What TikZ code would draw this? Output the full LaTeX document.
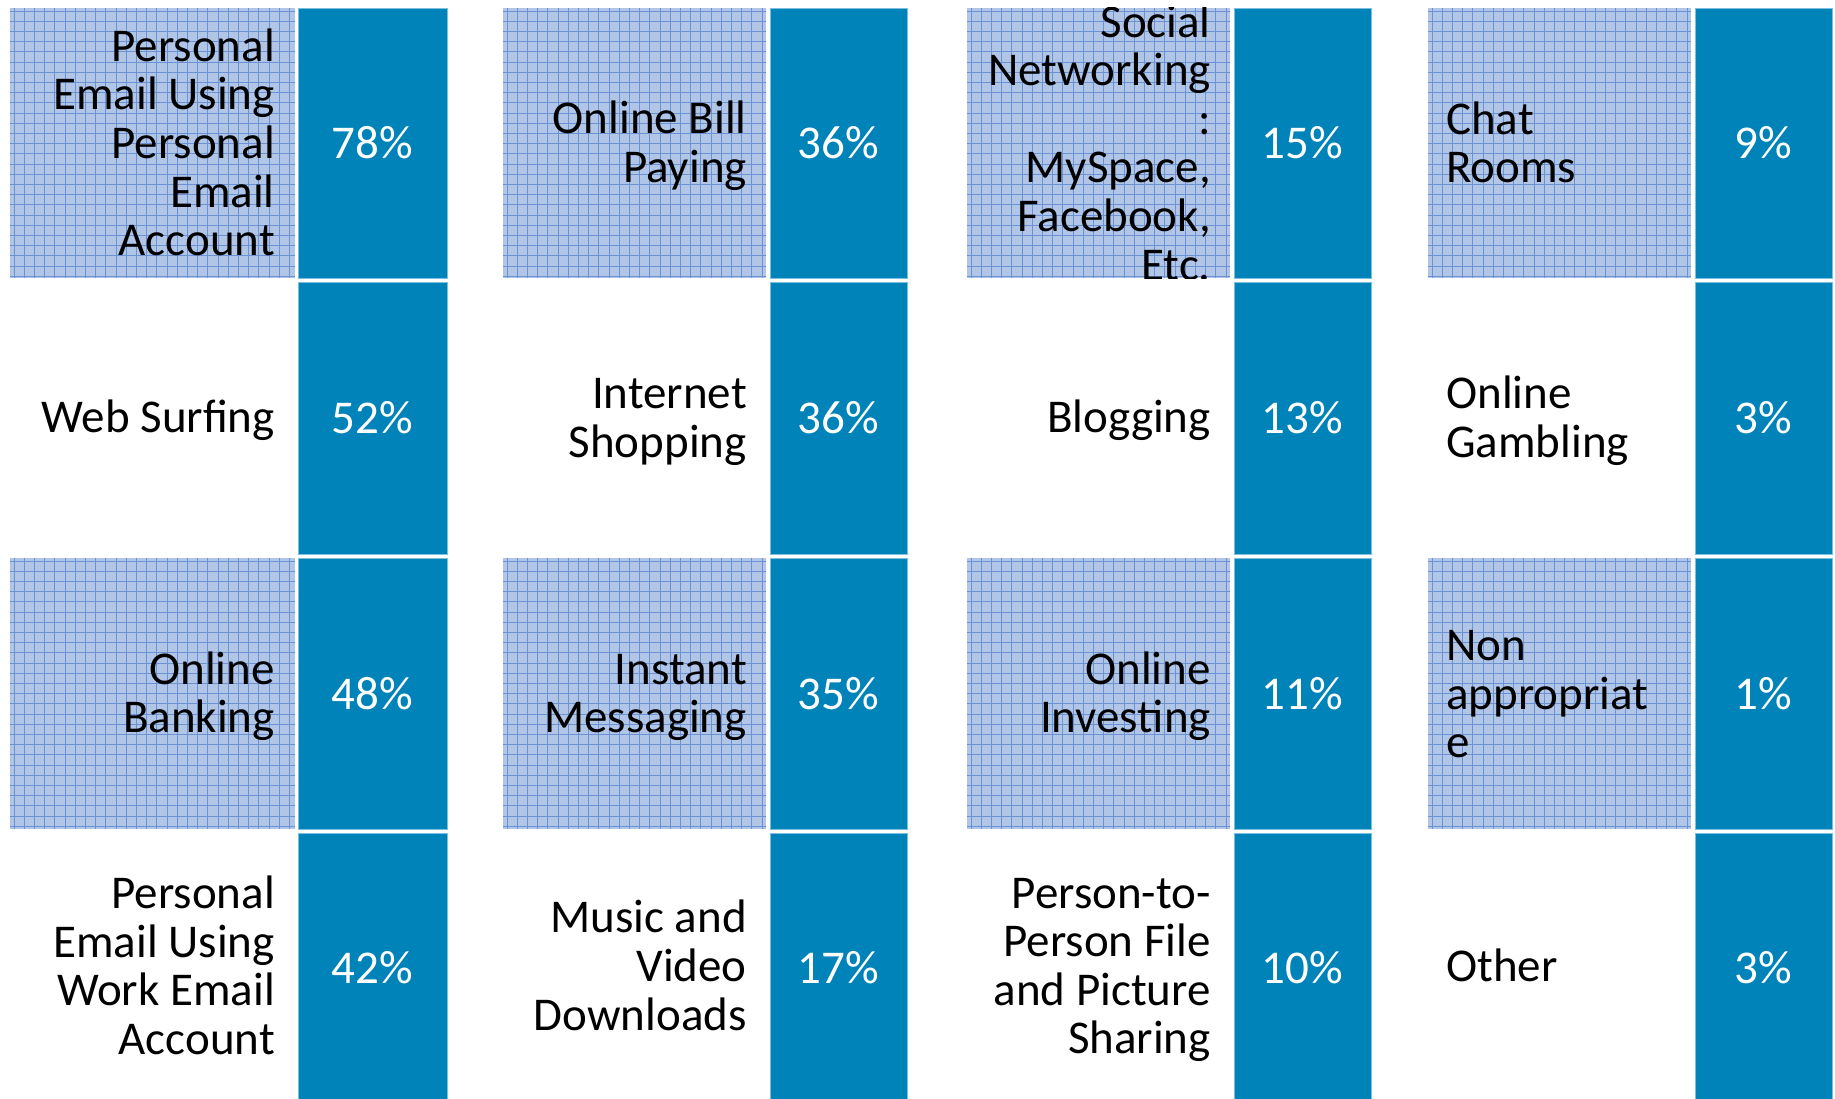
\documentclass[tikz,border=0pt]{standalone}
\usepackage{fontspec}
\setmainfont{Carlito}
\definecolor{pctblue}{HTML}{0083B9}
\definecolor{pctedge}{HTML}{7CC0E0}
\definecolor{patbg}{HTML}{B1C5E7}
\definecolor{patln}{HTML}{6B93D4}
\newcommand\ls{\rule[-7pt]{0pt}{45pt}}
\tikzset{
  pctfill/.style={fill=pctblue, draw=pctedge, line width=0.8pt},
  pcttext/.style={text=white, inner sep=0pt, font=\fontsize{47}{48.6}\selectfont},
  patfill/.style={fill=patbg},
  patline/.style={draw=patln, line width=0.9pt},
  lblr/.style={text=black, inner sep=0pt, anchor=east, align=right, font=\fontsize{47}{48.6}\selectfont},
  lbll/.style={text=black, inner sep=0pt, anchor=west, align=left, font=\fontsize{47}{48.6}\selectfont},
}
\newcommand\pctcell[6]{%
  \fill[pctfill] (#2,#4) rectangle (#3,#5);
  \node[pcttext] (#1) at ({(#2+#3)/2},{(#4+#5)/2}) {\ls #6};}
\newcommand\patcell[4]{%
  \fill[patfill] (#1,#3) rectangle (#2,#4);
  \begin{scope}
    \clip (#1,#3) rectangle (#2,#4);
    \foreach \gi in {0,...,28} {
      \draw[patline] ({#1+4+10.2*\gi},#3) -- ({#1+4+10.2*\gi},#4);
    }
    \foreach \gj in {0,...,27} {
      \draw[patline] (#1,{#3+3+10.2*\gj}) -- (#2,{#3+3+10.2*\gj});
    }
  \end{scope}}
\begin{document}
\begin{tikzpicture}[x=1pt,y=-1pt]
\useasboundingbox[fill=white] (0,0) rectangle (1835,1099);
% patterned label boxes (rows 1 and 3)
\patcell{10}{295}{8}{278}
\patcell{503}{766}{8}{278}
\patcell{967}{1230}{8}{278}
\patcell{1428}{1691}{8}{278}
\patcell{10}{295}{558}{829}
\patcell{503}{766}{558}{829}
\patcell{967}{1230}{558}{829}
\patcell{1428}{1691}{558}{829}
% percentage boxes
\pctcell{p11}{298}{447}{8}{278}{78\%}
\pctcell{p21}{298}{447}{282}{554}{52\%}
\pctcell{p31}{298}{447}{558}{829}{48\%}
\pctcell{p41}{298}{447}{833}{1102}{42\%}
\pctcell{p12}{770}{907}{8}{278}{36\%}
\pctcell{p22}{770}{907}{282}{554}{36\%}
\pctcell{p32}{770}{907}{558}{829}{35\%}
\pctcell{p42}{770}{907}{833}{1102}{17\%}
\pctcell{p13}{1234}{1371}{8}{278}{15\%}
\pctcell{p23}{1234}{1371}{282}{554}{13\%}
\pctcell{p33}{1234}{1371}{558}{829}{11\%}
\pctcell{p43}{1234}{1371}{833}{1102}{10\%}
\pctcell{p14}{1695}{1832}{8}{278}{9\%}
\pctcell{p24}{1695}{1832}{282}{554}{3\%}
\pctcell{p34}{1695}{1832}{558}{829}{1\%}
\pctcell{p44}{1695}{1832}{833}{1102}{3\%}
% labels column 1
\node[lblr] (l11) at (275,143) {\ls Personal\\\ls Email Using\\\ls Personal\\\ls Email\\\ls Account};
\node[lblr] (l21) at (275,418) {\ls Web Surfing};
\node[lblr] (l31) at (275,693.5) {\ls Online\\\ls Banking};
\node[lblr] (l41) at (275,966) {\ls Personal\\\ls Email Using\\\ls Work Email\\\ls Account};
% labels column 2
\node[lblr] (l12) at (747,143) {\ls Online Bill\\\ls Paying};
\node[lblr] (l22) at (747,418) {\ls Internet\\\ls Shopping};
\node[lblr] (l32) at (747,693.5) {\ls Instant\\\ls Messaging};
\node[lblr] (l42) at (747,966) {\ls Music and\\\ls Video\\\ls Downloads};
% labels column 3
\begin{scope}
  \clip (960,8) rectangle (1232,278);
  \node[lblr] (l13) at (1211,143) {\ls Social\\\ls Networking\\\ls :\\\ls MySpace,\\\ls Facebook,\\\ls Etc.};
\end{scope}
\node[lblr] (l23) at (1211,418) {\ls Blogging};
\node[lblr] (l33) at (1211,693.5) {\ls Online\\\ls Investing};
\node[lblr] (l43) at (1211,966) {\ls Person-to-\\\ls Person File\\\ls and Picture\\\ls Sharing};
% labels column 4
\node[lbll] (l14) at (1446,143) {\ls Chat\\\ls Rooms};
\node[lbll] (l24) at (1446,418) {\ls Online\\\ls Gambling};
\node[lbll] (l34) at (1446,693.5) {\ls Non\\\ls appropriat\\\ls e};
\node[lbll] (l44) at (1446,966) {\ls Other};
\end{tikzpicture}
\end{document}
